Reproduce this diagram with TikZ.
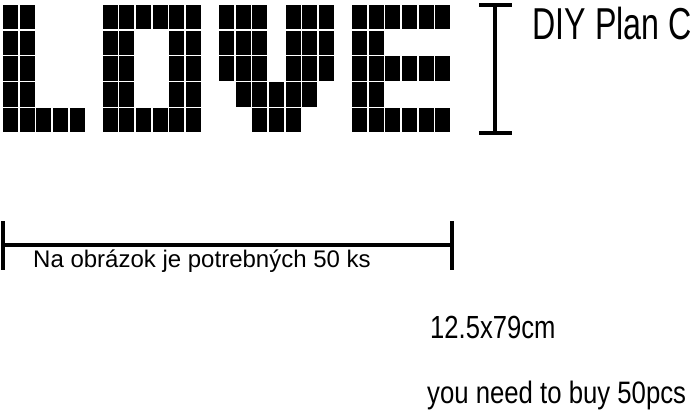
\documentclass[tikz,border=0pt]{standalone}
\usepackage{fontspec}
\setmainfont{Liberation Sans}
\newfontfamily\planfont[FakeStretch=0.72]{Liberation Sans}
\newfontfamily\sizefont[FakeStretch=0.8]{Liberation Sans}
\newfontfamily\buyfont[FakeStretch=0.83]{Liberation Sans}
\begin{document}
\begin{tikzpicture}[x=1pt,y=-1pt,
    pixel/.style={fill=black},
    bar/.style={line width=3.6pt},
    label node/.style={anchor=base west,inner sep=0pt}]
    \useasboundingbox[fill=white] (0,0) rectangle (698,412);

    % the LOVE pixels, row by row
    \foreach \r/\cols in {0/{0,1,6,7,8,9,10,11,13,14,15,17,18,19,21,22,23,24,25,26},
                          1/{0,1,6,7,10,11,13,14,15,17,18,19,21,22},
                          2/{0,1,6,7,10,11,13,14,15,17,18,19,21,22,23,24,25,26},
                          3/{0,1,6,7,10,11,14,15,16,17,18,21,22},
                          4/{0,1,2,3,4,6,7,8,9,10,11,15,16,17,21,22,23,24,25,26}}
        \foreach \c in \cols
            \fill[pixel] ({3+16.63*\c},{5+25.7*\r}) rectangle +(15,24.5);

    % height bar
    \coordinate (vtop) at (495,5);
    \coordinate (vbot) at (495,133);
    \draw[bar] (vtop) -- (vbot);
    \draw[bar] ([xshift=-16pt]vtop) -- ([xshift=17pt]vtop);
    \draw[bar] ([xshift=-16pt]vbot) -- ([xshift=17pt]vbot);

    % width bar
    \coordinate (hleft) at (3,245);
    \coordinate (hright) at (452,245);
    \draw[bar] (hleft) -- (hright);
    \draw[bar] ([yshift=24pt]hleft) -- ([yshift=-25pt]hleft);
    \draw[bar] ([yshift=24pt]hright) -- ([yshift=-25pt]hright);

    \node[label node] (plan) at (532.5,40) {\planfont\fontsize{44.7}{50}\selectfont DIY Plan C};
    \node[label node] (count) at (33,267) {\fontsize{24}{28}\selectfont Na obrázok je potrebných 50 ks};
    \node[label node] (size) at (430,338) {\sizefont\fontsize{32}{36}\selectfont 12.5x79cm};
    \node[label node] (buy) at (427,403) {\buyfont\fontsize{31}{36}\selectfont you need to buy 50pcs};
\end{tikzpicture}
\end{document}
